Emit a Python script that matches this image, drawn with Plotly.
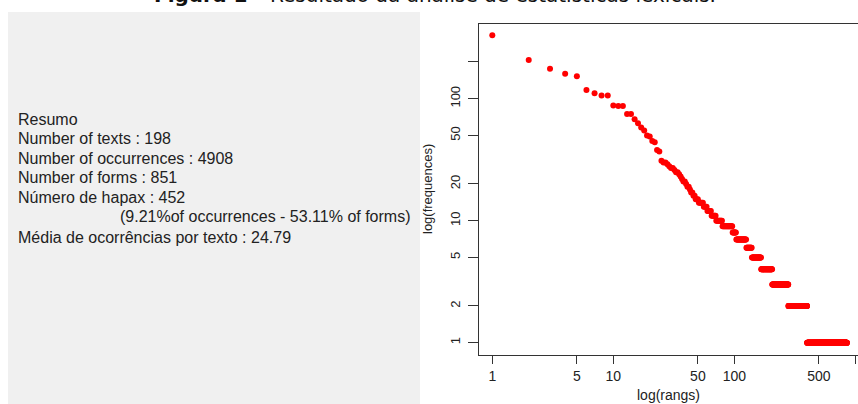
import plotly.graph_objects as go

# ---- data (rank / frequency, log-log) ----
top_freqs = [331, 208, 176, 160, 153, 118, 111, 106, 106, 88,
             87, 87, 75, 75, 68, 63, 58, 55, 50, 49,
             45, 44, 38, 37, 31, 30, 30, 29, 28, 27,
             27, 26, 25, 25, 24, 23, 22, 21, 21, 20,
             19, 19, 18, 17, 17, 16, 16, 15, 15, 15,
             14, 14, 14, 14, 14, 13, 13, 13, 13, 12,
             12, 12, 12, 12, 11, 11, 11, 11, 11, 11]
spectrum_freq = [10, 9, 8, 7, 6, 5, 4, 3, 2, 1]
spectrum_count = [9, 17, 7, 22, 14, 27, 39, 74, 120, 452]

summary_lines = [
    "Resumo",
    "Number of texts : 198",
    "Number of occurrences : 4908",
    "Number of forms : 851",
    "Número de hapax : 452",
]
hapax_detail = "(9.21%of occurrences - 53.11% of forms)"
mean_line = "Média de ocorrências por texto : 24.79"

x_tickvals = [1, 5, 10, 50, 100, 500, 1000]
x_ticktext = ["1", "5", "10", "50", "100", "500", ""]
y_tickvals = [1, 2, 5, 10, 20, 50, 100, 200]
y_ticktext = ["1", "2", "5", "10", "20", "50", "100", ""]

title_html = "<b>Figura 1</b> – Resultado da análise de estatísticas lexicais."

freqs = list(top_freqs)
for f, c in zip(spectrum_freq, spectrum_count):
    freqs += [f] * c
ranks = list(range(1, len(freqs) + 1))

W, H = 858, 404
def px(x):
    return x / W
def py(y):
    return 1 - y / H

TXT = "#222222"
AX = "#333333"
FONT = "Liberation Sans, Arial, sans-serif"

fig = go.Figure(go.Scatter(
    x=ranks, y=freqs, mode="markers",
    marker=dict(color="#ff0000", size=6, line=dict(width=0)),
    hoverinfo="skip"))

fig.update_layout(
    width=W, height=H, margin=dict(l=0, r=0, t=0, b=0),
    paper_bgcolor="white", plot_bgcolor="white", showlegend=False,
    xaxis=dict(type="log", domain=[px(479), 1], range=[-0.1099, 3.0223],
               tickmode="array", tickvals=x_tickvals, ticktext=x_ticktext,
               ticks="outside", ticklen=8, tickcolor=AX, tickwidth=1,
               showline=True, linecolor=AX, linewidth=1.3, mirror=True,
               showgrid=False, zeroline=False,
               tickfont=dict(family=FONT, size=14, color=TXT)),
    yaxis=dict(type="log", domain=[49 / H, 380 / H], range=[-0.1008, 2.6123],
               tickmode="array", tickvals=y_tickvals, ticktext=y_ticktext,
               ticks="outside", ticklen=10, tickcolor=AX, tickwidth=1,
               ticklabelstandoff=3,
               showline=True, linecolor=AX, linewidth=1.3, mirror=False,
               showgrid=False, zeroline=False, tickangle=-90,
               tickfont=dict(family=FONT, size=13, color=TXT)),
)

shapes = [dict(type="rect", xref="paper", yref="paper",
               x0=px(8), x1=px(420), y0=0, y1=py(12),
               fillcolor="#f0f0f0", line=dict(width=0), layer="below")]
fig.update_layout(shapes=shapes)

TS = 16
ann = []
ys = [119, 138.5, 158, 177.5, 197]
for t, yy in zip(summary_lines, ys):
    ann.append(dict(text=t, x=px(16), y=py(yy), xref="paper", yref="paper",
                    xanchor="left", yanchor="middle", showarrow=False,
                    font=dict(family=FONT, size=TS, color=TXT)))
ann.append(dict(text=hapax_detail, x=px(413), y=py(216.5), xref="paper", yref="paper",
                xanchor="right", yanchor="middle", showarrow=False,
                font=dict(family=FONT, size=TS, color=TXT)))
ann.append(dict(text=mean_line, x=px(16), y=py(237), xref="paper", yref="paper",
                xanchor="left", yanchor="middle", showarrow=False,
                font=dict(family=FONT, size=TS, color=TXT)))
ann.append(dict(text="log(rangs)", x=px(668), y=py(395), xref="paper", yref="paper",
                xanchor="center", yanchor="middle", showarrow=False,
                font=dict(family=FONT, size=14, color=TXT)))
ann.append(dict(text="log(frequences)", x=px(427), y=py(189), xref="paper", yref="paper",
                xanchor="center", yanchor="middle", showarrow=False, textangle=-90,
                font=dict(family=FONT, size=13, color=TXT)))
ann.append(dict(text=title_html, x=px(152), y=py(9), xref="paper", yref="paper",
                xanchor="left", yanchor="bottom", showarrow=False,
                font=dict(family="DejaVu Sans, Verdana, sans-serif", size=20, color="#111111")))
fig.update_layout(annotations=ann)

fig.write_html("out.html", config={"displayModeBar": False},
               post_script="document.body.style.margin='0';document.body.style.overflow='hidden';")
